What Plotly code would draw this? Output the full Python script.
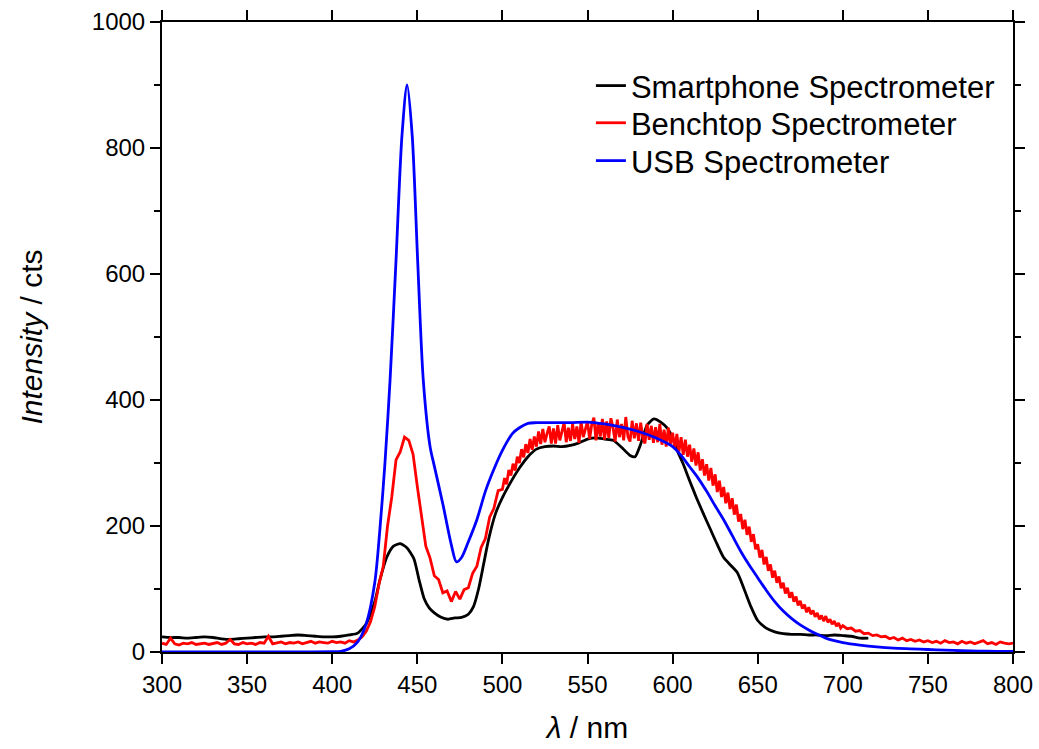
import plotly.graph_objects as go

# ---------------- data ----------------
smart_x = [300, 305, 310, 315, 320, 325, 330, 335, 340, 345, 350, 355, 360, 365, 370, 375, 380, 385, 390, 395,
           400, 405, 410, 415, 420, 425, 428, 432, 436, 440, 444, 448, 451, 454, 457, 460, 464, 468, 472, 476,
           480, 483, 486, 489, 492, 496, 500, 505, 510, 515, 520, 525, 530, 535, 540, 545, 550, 555, 560, 565,
           570, 575, 578, 581, 585, 589, 593, 597, 600, 603, 606, 610, 614, 618, 622, 626, 630, 634, 638, 642,
           646, 650, 655, 660, 665, 670, 675, 680, 685, 690, 695, 700, 705, 710, 715]
smart_y = [24, 23, 23, 22, 23, 24, 23, 21, 20, 21, 22, 23, 24, 24, 25, 26, 27, 26, 25, 24,
           24, 25, 27, 30, 45, 80, 114, 150, 168, 172, 165, 148, 115, 85, 70, 62, 55, 52, 54, 55,
           60, 72, 100, 140, 180, 220, 245, 270, 292, 310, 322, 326, 327, 326, 328, 332, 338, 340, 338, 336,
           325, 312, 310, 328, 360, 370, 365, 355, 340, 318, 300, 272, 245, 220, 196, 172, 150, 138, 126, 100,
           72, 50, 38, 32, 29, 28, 28, 27, 27, 26, 27, 26, 25, 22, 22]

# benchtop: 2.5 nm steps 300-497.5, 1.25 nm steps 500-698.75, 2.5 nm steps 700-800
bench_x = ([300 + 2.5 * i for i in range(80)]
           + [500 + 1.25 * i for i in range(160)]
           + [700 + 2.5 * i for i in range(41)])
bench_y = [14, 12, 22, 13, 11, 14, 13, 15, 12, 13,
           14, 12, 13, 15, 12, 14, 20, 13, 12, 15,
           13, 14, 12, 15, 14, 25, 13, 14, 16, 13,
           15, 14, 16, 13, 15, 17, 14, 16, 15, 14,
           17, 15, 16, 14, 18, 16, 19, 24, 33, 48,
           72, 108, 136, 200, 246, 305, 318, 341, 336, 314,
           263, 216, 168, 149, 121, 115, 94, 97, 80, 96,
           84, 99, 102, 125, 136, 166, 180, 214, 228, 256,
           # 500 - 698.75 (1.25 nm)
           258, 276, 266, 289, 280, 299, 288, 310,
           300, 322, 309, 330, 316, 338, 321, 342,
           326, 350, 330, 354, 333, 347, 358, 331,
           355, 331, 360, 336, 350, 364, 333, 356,
           335, 362, 338, 358, 332, 366, 341, 355,
           366, 338, 361, 372, 336, 364, 342, 370,
           337, 366, 340, 371, 356, 334, 369, 341,
           362, 336, 373, 342, 334, 367, 339, 363,
           335, 364, 340, 331, 362, 337, 359, 332,
           357, 333, 362, 329, 353, 326, 356, 330,
           348, 322, 346, 318, 341, 313, 337, 310,
           329, 302, 323, 296, 317, 288, 306, 280,
           298, 272, 292, 264, 282, 254, 272, 246,
           262, 236, 253, 227, 244, 218, 234, 207,
           219, 195, 210, 186, 199, 175, 187, 163,
           171, 150, 162, 139, 151, 129, 139, 118,
           129, 110, 120, 101, 110, 93, 102, 86,
           95, 80, 88, 74, 81, 69, 75, 63,
           71, 60, 66, 56, 62, 52, 58, 49,
           57, 47, 52, 44, 49, 41, 46, 38,
           # 700 - 800 (2.5 nm)
           42, 37, 38, 33, 34, 29, 30, 26, 27, 24,
           25, 21, 23, 19, 22, 18, 20, 17, 19, 16,
           18, 15, 17, 14, 18, 15, 16, 13, 17, 14,
           16, 13, 15, 18, 13, 15, 12, 16, 14, 13,
           14]

usb_x = [300, 320, 340, 360, 380, 400, 405, 410, 415, 420, 425, 428, 431, 434, 437.5, 441, 444, 447, 450.2,
         453.5, 457.5, 460, 465, 470, 473, 476, 480, 485, 490, 495, 500, 506, 510, 515, 520, 530, 540, 550,
         560, 570, 580, 590, 600, 605, 610, 615, 620, 625, 630, 635, 640, 645, 650, 655, 660, 665, 670, 675,
         680, 685, 690, 695, 700, 710, 720, 730, 740, 750, 760, 770, 780, 790, 800]
usb_y = [0, 0, 0, 0, 0, 0.5, 1, 5, 16, 45, 110, 194, 300, 432, 622, 820, 900, 820, 622,
         432, 326, 295, 235, 170, 143, 150, 175, 210, 255, 290, 320, 347, 356, 363, 364, 364, 364, 365,
         362, 357, 350, 340, 326, 312, 294, 276, 255, 232, 210, 185, 160, 138, 118, 98, 80, 65, 53, 43,
         35, 28, 22, 18, 15, 11, 8, 6, 5, 4, 3, 2, 1.5, 1, 1]

names = ["Smartphone Spectrometer", "Benchtop Spectrometer", "USB Spectrometer"]
colors = ["#000000", "#ff0000", "#0000ff"]

x_ticks = [300, 350, 400, 450, 500, 550, 600, 650, 700, 750, 800]
y_ticks = [0, 200, 400, 600, 800, 1000]

# ---------------- figure ----------------
fig = go.Figure()
fig.add_trace(go.Scatter(x=smart_x, y=smart_y, mode="lines", name=names[0], legend="legend",
                         line=dict(color=colors[0], width=2.8, shape="spline", smoothing=0.6)))
fig.add_trace(go.Scatter(x=bench_x, y=bench_y, mode="lines", name=names[1], legend="legend2",
                         line=dict(color=colors[1], width=2.8)))
fig.add_trace(go.Scatter(x=usb_x, y=usb_y, mode="lines", name=names[2], legend="legend3",
                         line=dict(color=colors[2], width=2.8, shape="spline", smoothing=0.8)))

font_family = "Liberation Sans, Arial, sans-serif"

def leg(yc):
    return dict(x=0.504, y=yc, xanchor="left", yanchor="middle",
                bgcolor="rgba(0,0,0,0)", font=dict(size=31, color="black"), itemwidth=30)

fig.update_layout(
    width=1039, height=749,
    margin=dict(l=162, r=26, t=22, b=97),
    paper_bgcolor="white", plot_bgcolor="white",
    font=dict(family=font_family, color="black", size=24),
    showlegend=True,
    legend=leg(0.8985),
    legend2=leg(0.8395),
    legend3=leg(0.7794),
)
fig.update_xaxes(
    range=[300, 800], tickvals=x_ticks, ticktext=[str(v) for v in x_ticks],
    showline=True, linecolor="black", linewidth=2, mirror="ticks",
    ticks="outside", ticklen=10, tickwidth=2, tickcolor="black",
    showgrid=False, zeroline=False, automargin=False,
    tickfont=dict(size=24),
    title=dict(text="<i>λ</i> / nm", font=dict(size=30), standoff=20),
)
fig.update_yaxes(
    range=[0, 1000], tickvals=y_ticks, ticktext=[str(v) for v in y_ticks],
    showline=True, linecolor="black", linewidth=2, mirror="ticks",
    ticks="outside", ticklen=10, tickwidth=2, tickcolor="black",
    minor=dict(dtick=100, ticklen=6, tickwidth=2, ticks="outside", tickcolor="black", showgrid=False),
    showgrid=False, zeroline=False, automargin=False,
    tickfont=dict(size=24),
    title=dict(text="<i>Intensity</i> / cts", font=dict(size=30), standoff=40),
)

fig.write_html("out.html")
